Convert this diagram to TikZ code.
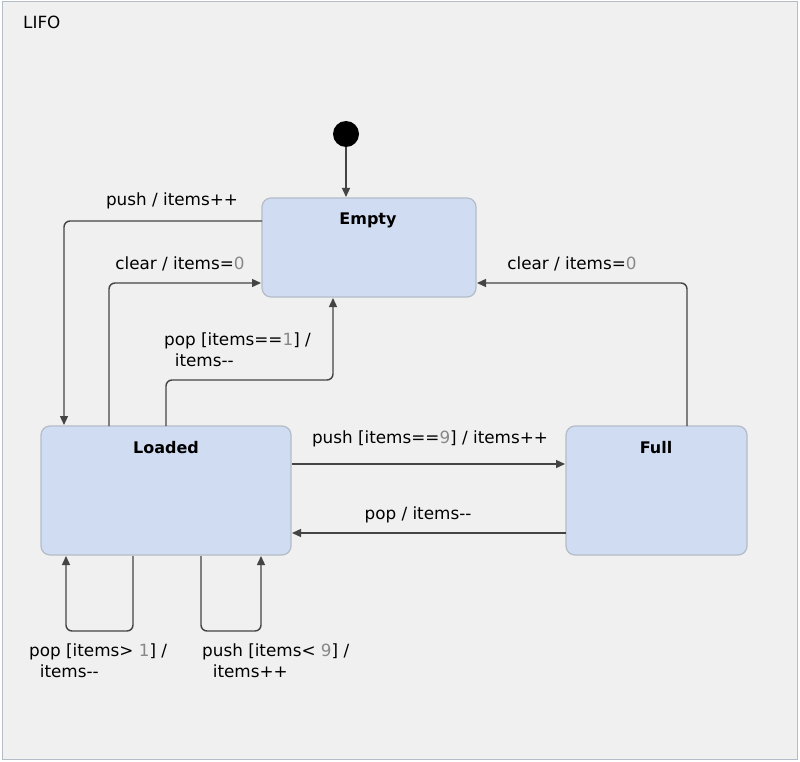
\documentclass[tikz,border=0pt]{standalone}
\usepackage{fontspec}
\setmainfont{DejaVu Sans}[Ligatures=NoCommon]
\usetikzlibrary{arrows.meta}
\definecolor{bg}{HTML}{F0F0F0}
\definecolor{st}{HTML}{D0DCF2}
\definecolor{stb}{HTML}{B4BCC8}
\definecolor{ln}{HTML}{444444}
\definecolor{num}{HTML}{888888}
\newcommand{\nm}[1]{\textcolor{num}{#1}}
\newcommand{\mm}{{-}{-}}
\begin{document}
\begin{tikzpicture}[x=1pt,y=-1pt,
  state/.style={draw=stb,line width=1.2pt,fill=st,rounded corners=9pt},
  tr/.style={draw=ln,line width=1.4pt,rounded corners=6pt,-{Triangle[length=9pt,width=8pt]}},
  lab/.style={font=\fontsize{16.8}{21}\selectfont,text=black,inner sep=0pt},
  title/.style={font=\fontsize{16}{19}\selectfont\bfseries,inner sep=0pt}]
\useasboundingbox (0,0) rectangle (800,762);
\draw[fill=bg,draw=stb,line width=1pt] (2,2) rectangle (797,759);
\node[lab,anchor=west] (lifo) at (23,22) {LIFO};
\fill[black] (346,134) circle (13) coordinate (init);
\coordinate (ib) at (346,147);
\draw[state] (262,198) rectangle (476,297);
\draw[state] (41,426) rectangle (291,555);
\draw[state] (566,426) rectangle (747,555);
\node[title] (empty) at (368,220) {Empty};
\node[title] (loaded) at (166,448) {Loaded};
\node[title] (full) at (656,448) {Full};
\draw[tr] (ib) -- (346,197);
\draw[tr] (262,221) -- (64,221) -- (64,425);
\node[lab] (l1) at (172,201) {push / items++};
\draw[tr] (109,426) -- (109,283) -- (261,283);
\node[lab] (l2) at (180,264) {clear / items=\nm{0}};
\draw[tr] (166,426) -- (166,380) -- (333,380) -- (333,298);
\node[lab,align=left,anchor=west] (l3) at (164,350) {pop [items==\nm{1}] /\\\ \ items\mm};
\draw[tr] (687,426) -- (687,283) -- (477,283);
\node[lab] (l4) at (572,264) {clear / items=\nm{0}};
\draw[tr] (292,464) -- (565,464);
\node[lab] (l5) at (430,439) {push [items==\nm{9}] / items++};
\draw[tr] (566,533) -- (292,533);
\node[lab] (l6) at (418,515) {pop / items\mm};
\draw[tr] (133,556) -- (133,631) -- (66,631) -- (66,556);
\node[lab,align=left,anchor=west] (l7) at (29,661) {pop [items> \nm{1}] /\\\ \ items\mm};
\draw[tr] (201,556) -- (201,631) -- (261,631) -- (261,556);
\node[lab,align=left,anchor=west] (l8) at (202,661) {push [items< \nm{9}] /\\\ \ items++};
\end{tikzpicture}
\end{document}
